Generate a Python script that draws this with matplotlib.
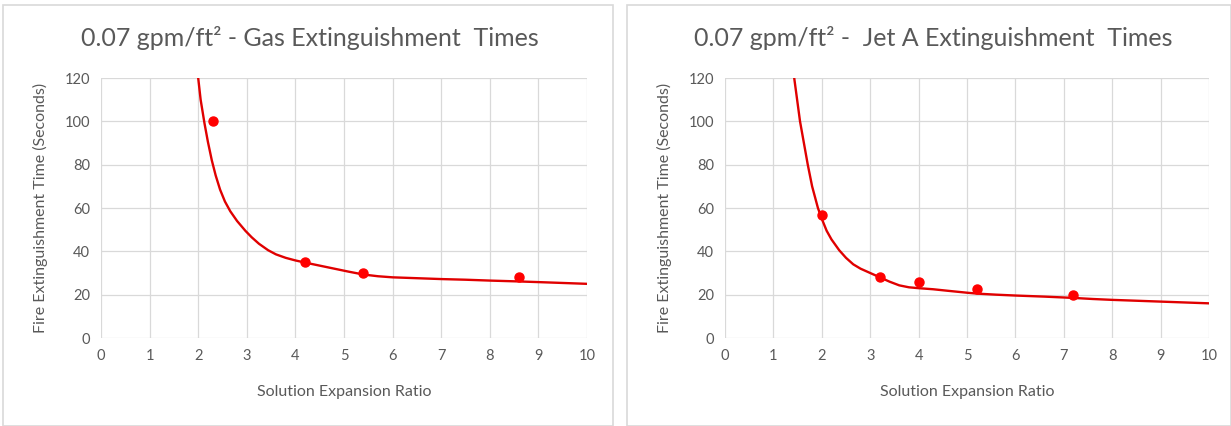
import matplotlib.pyplot as plt
from matplotlib.patches import Rectangle

plt.rcParams["font.family"] = ["Lato", "DejaVu Sans"]

# ---------------------------------------------------------------- data
gas_x = [2.3, 4.2, 5.4, 8.6]
gas_y = [100, 35, 30, 28]
gas_curve_x = [2.0, 2.05, 2.13, 2.2, 2.28, 2.36, 2.45, 2.55, 2.66, 2.8, 2.97, 3.1, 3.25,
               3.44, 3.6, 3.8, 4.0, 4.2, 4.5, 4.8, 5.1, 5.4, 5.7, 6.0, 6.5, 7.0, 7.5,
               8.0, 8.6, 9.0, 9.5, 10.0]
gas_curve_y = [120, 110, 99, 90.5, 82, 75, 68.5, 63, 58.5, 54, 49.5, 46.5, 43.5,
               40.5, 38.6, 37, 35.8, 34.8, 33.4, 32, 30.6, 29.3, 28.5, 28, 27.6, 27.2, 26.9,
               26.5, 26.1, 25.8, 25.4, 25]

jet_x = [2.0, 3.2, 4.0, 5.2, 7.2]
jet_y = [57, 28, 26, 22.5, 20]
jet_curve_x = [1.43, 1.49, 1.55, 1.63, 1.71, 1.8, 1.92, 2.0, 2.1, 2.2, 2.36, 2.5, 2.65,
               2.8, 3.0, 3.2, 3.4, 3.6, 3.8, 4.0, 4.3, 4.6, 5.0, 5.2, 5.6, 6.0, 6.6,
               7.2, 7.6, 8.0, 8.5, 9.0, 9.5, 10.0]
jet_curve_y = [120, 110, 100, 90, 80, 70, 60, 55, 49.5, 45.5, 40.5, 37, 34,
               32, 30, 28, 26, 24.3, 23.4, 23, 22.5, 21.8, 20.9, 20.5, 20, 19.6, 19.1,
               18.5, 18, 17.6, 17.2, 16.8, 16.4, 16]

titles = ["0.07 gpm/ft\u00b2 - Gas Extinguishment  Times",
          "0.07 gpm/ft\u00b2 -  Jet A Extinguishment  Times"]
x_ticks = list(range(0, 11))
y_ticks = list(range(0, 121, 20))

TEXT = "#595959"
GRID = "#d9d9d9"
RED = "#ff0000"

W, H = 1231, 426
fig = plt.figure(figsize=(W / 100, H / 100), dpi=100, facecolor="white")

# panel frames
for x0, x1 in [(3, 613), (627, 1231)]:
    fig.add_artist(Rectangle((x0 / W, 0), (x1 - x0) / W, 1 - 5 / H,
                             transform=fig.transFigure, fill=False,
                             edgecolor="#d9d9d9", lw=1.2))

panels = [
    (101, 587, gas_x, gas_y, gas_curve_x, gas_curve_y, titles[0], 310),
    (725, 1209, jet_x, jet_y, jet_curve_x, jet_curve_y, titles[1], 933),
]

for left, right, px, py, cx, cy, title, tx in panels:
    ax = fig.add_axes([left / W, 1 - 338 / H, (right - left) / W, 260 / H])
    ax.plot(cx, cy, color="#e00000", lw=1.7, zorder=3, solid_joinstyle="round")
    ax.plot(px, py, "o", color=RED, ms=6.5, zorder=4)
    ax.set_xlim(0, 10)
    ax.set_ylim(0, 120)
    ax.set_xticks(x_ticks)
    ax.set_yticks(y_ticks)
    ax.grid(True, color=GRID, lw=0.9)
    ax.set_axisbelow(True)
    for s in ax.spines.values():
        s.set_visible(False)
    ax.tick_params(length=0, labelsize=10.5, labelcolor=TEXT, pad=8)
    ax.set_xlabel("Solution Expansion Ratio", fontsize=11.5, color=TEXT, labelpad=16)
    ax.set_ylabel("Fire Extinguishment Time (Seconds)", fontsize=11.5, color=TEXT, labelpad=12)
    fig.text(tx / W, 1 - 38 / H, title, ha="center", va="center",
             fontsize=18, color=TEXT)

fig.savefig("out.png", dpi=100)
